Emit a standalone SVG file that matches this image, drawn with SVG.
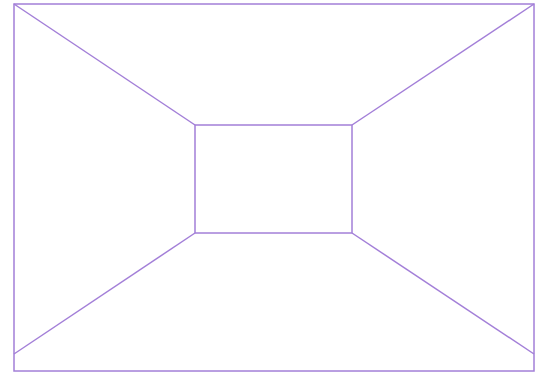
<svg xmlns="http://www.w3.org/2000/svg" width="545" height="372" viewBox="0 0 545 372">
<style>.l{stroke:#a37fd8;stroke-width:1.5;fill:none}</style>
<rect width="545" height="372" fill="#fff"/>
<g id="outer"><rect class="l" x="14" y="4" width="520" height="367"/></g>
<g id="inner"><rect class="l" x="195" y="125" width="157" height="108"/></g>
<g id="connectors">
<line class="l" x1="14" y1="4" x2="195" y2="125"/>
<line class="l" x1="534" y1="4" x2="352" y2="125"/>
<line class="l" x1="14" y1="354" x2="195" y2="233"/>
<line class="l" x1="534" y1="354" x2="352" y2="233"/>
</g>
</svg>
